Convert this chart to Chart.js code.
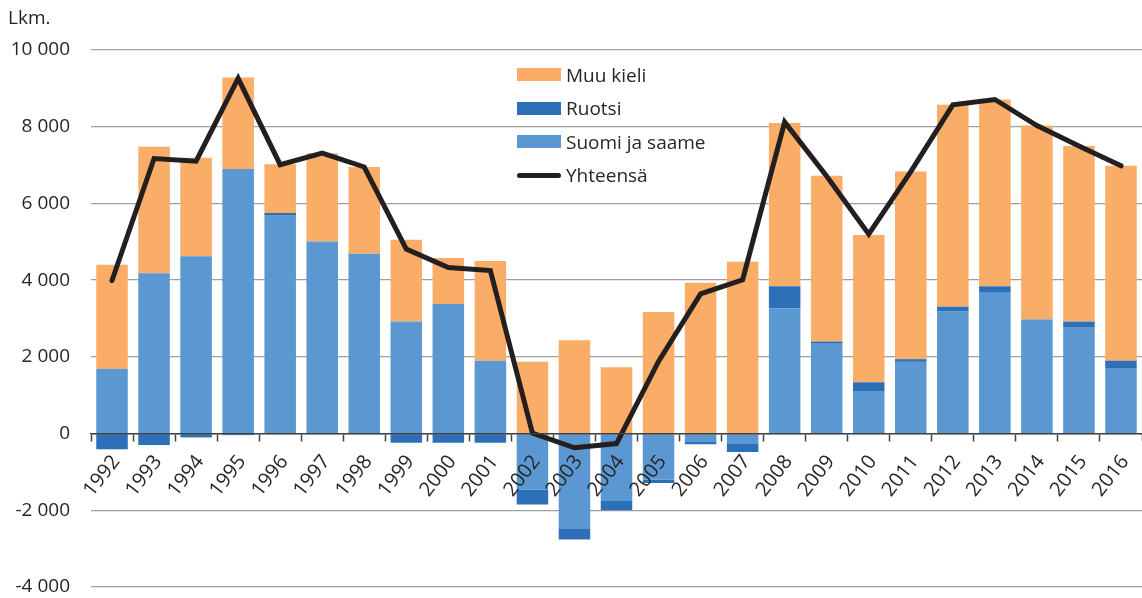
<!DOCTYPE html>
<html>
<head>
<meta charset="utf-8">
<script src="https://cdn.jsdelivr.net/npm/chart.js@4/dist/chart.umd.min.js"></script>
<style>
  body { margin: 0; background: #fff; font-family: "Open Sans", sans-serif; color: #262626; }
  #wrap { position: relative; width: 1142px; height: 598px; }
  #unit { position: absolute; left: 8px; top: 4px; font-size: 19px; }
  #legend { position: absolute; left: 517px; top: 58px; font-size: 19px; }
  .item { height: 33.5px; display: flex; align-items: center; }
  .box { width: 44px; height: 13px; margin-right: 5px; }
  .ln { width: 44px; height: 5px; border-radius: 3px; margin-right: 5px; background: #231f20; }
</style>
</head>
<body>
<div id="wrap">
  <canvas id="chart" width="1142" height="598"></canvas>
  <div id="unit">Lkm.</div>
  <div id="legend"></div>
</div>
<script>
// vuodet
const years = ['1992','1993','1994','1995','1996','1997','1998','1999','2000','2001','2002','2003','2004',
  '2005','2006','2007','2008','2009','2010','2011','2012','2013','2014','2015','2016'];

// kieliryhmät
const suomiJaSaame = [1690, 4180, 4620, 6900, 5680, 5010, 4690, 2920, 3380, 1900, -1460, -2470, -1760,
  -1200, -200, -270, 3260, 2340, 1090, 1870, 3180, 3670, 2970, 2760, 1690];
const ruotsi = [-410, -300, -100, -40, 70, 0, 0, -240, -240, -240, -390, -290, -240,
  -90, -80, -210, 580, 60, 250, 70, 130, 170, 10, 160, 210];
const muuKieli = [2710, 3300, 2570, 2380, 1270, 2300, 2260, 2130, 1200, 2600, 1875, 2430, 1730,
  3170, 3930, 4480, 4260, 4320, 3840, 4890, 5260, 4870, 5050, 4580, 5080];
const yhteensa = [3990, 7170, 7100, 9260, 7010, 7310, 6950, 4810, 4330, 4250, 10, -370, -260,
  1880, 3640, 4010, 8120, 6710, 5200, 6830, 8570, 8710, 8030, 7500, 6980];

// y-akselin jaotus
const yTicks = [-4000, -2000, 0, 2000, 4000, 6000, 8000, 10000];

const colors = {
    muu: '#f9ad66',
    ruotsi: '#2e70b8',
    suomi: '#5b97d1',
    total: '#231f20'
};

const fontFamily = '"Open Sans", sans-serif';

function formatNumber(v) {
    const sign = v < 0 ? '-' : '';
    const a = Math.abs(v);
    if (a >= 1000) {
        return sign + Math.floor(a / 1000) + ' ' + String(a % 1000).padStart(3, '0');
    }
    return sign + a;
}

// siirretään vuosilukuja hieman alemmas nollaviivasta
const shiftXLabels = {
    id: 'shiftXLabels',
    beforeDraw(chart) {
        const scale = chart.scales.x;
        const items = scale.getLabelItems(chart.chartArea);
        if (items._shifted) return;
        items.forEach(it => {
            it.options.translation[0] += 4;
            it.options.translation[1] += 10;
        });
        items._shifted = true;
    }
};

const barCommon = {
    type: 'bar',
    stack: 'kieli',
    order: 1,
    barPercentage: 0.75,
    categoryPercentage: 1.0,
    borderWidth: 0
};

new Chart(document.getElementById('chart'), {
    type: 'bar',
    data: {
        labels: years,
        datasets: [
            { ...barCommon, label: 'Suomi ja saame', data: suomiJaSaame, backgroundColor: colors.suomi },
            { ...barCommon, label: 'Ruotsi', data: ruotsi, backgroundColor: colors.ruotsi },
            { ...barCommon, label: 'Muu kieli', data: muuKieli, backgroundColor: colors.muu },
            {
                type: 'line',
                label: 'Yhteensä',
                data: yhteensa,
                stack: 'total',
                order: 0,
                borderColor: colors.total,
                borderWidth: 5,
                pointRadius: 0,
                tension: 0,
                borderJoinStyle: 'miter',
                borderCapStyle: 'round',
                fill: false
            }
        ]
    },
    options: {
        responsive: false,
        animation: false,
        layout: { padding: { top: 50, bottom: 11, left: 0, right: 0 } },
        plugins: {
            legend: { display: false },
            tooltip: { enabled: false }
        },
        scales: {
            x: {
                stacked: true,
                position: { y: 0 },
                // akseli nollan kohdalla, ei vie tilaa reunoilta
                afterFit: function(scale) {
                    scale.height = 0;
                    scale.paddingLeft = 0;
                    scale.paddingRight = 0;
                },
                border: { display: true, color: '#404040', width: 1.5, z: 1 },
                grid: {
                    drawOnChartArea: false,
                    drawTicks: true,
                    tickLength: 7,
                    tickWidth: 1.5,
                    tickColor: '#404040',
                    offset: true
                },
                ticks: {
                    autoSkip: false,
                    minRotation: 52,
                    maxRotation: 52,
                    padding: 0,
                    z: 1,
                    color: '#262626',
                    font: { family: fontFamily, size: 20 }
                }
            },
            y: {
                stacked: true,
                min: -4000,
                max: 10000,
                afterFit: function(scale) {
                    scale.width = 91;
                    scale.paddingTop = 0;
                    scale.paddingBottom = 0;
                },
                afterBuildTicks: function(scale) {
                    scale.ticks = yTicks.map(v => ({ value: v }));
                },
                border: { display: false },
                grid: {
                    color: '#a0a0a0',
                    lineWidth: 1.3,
                    drawTicks: false
                },
                ticks: {
                    padding: 21,
                    color: '#262626',
                    font: { family: fontFamily, size: 19 },
                    callback: v => formatNumber(v)
                }
            }
        }
    },
    plugins: [shiftXLabels]
});

// selite
const legendItems = [
    { label: 'Muu kieli', color: colors.muu },
    { label: 'Ruotsi', color: colors.ruotsi },
    { label: 'Suomi ja saame', color: colors.suomi },
    { label: 'Yhteensä', line: true }
];
const legendEl = document.getElementById('legend');
legendItems.forEach(item => {
    const row = document.createElement('div');
    row.className = 'item';
    const mark = document.createElement('div');
    if (item.line) {
        mark.className = 'ln';
    } else {
        mark.className = 'box';
        mark.style.background = item.color;
    }
    const txt = document.createElement('span');
    txt.textContent = item.label;
    row.appendChild(mark);
    row.appendChild(txt);
    legendEl.appendChild(row);
});
</script>
</body>
</html>
